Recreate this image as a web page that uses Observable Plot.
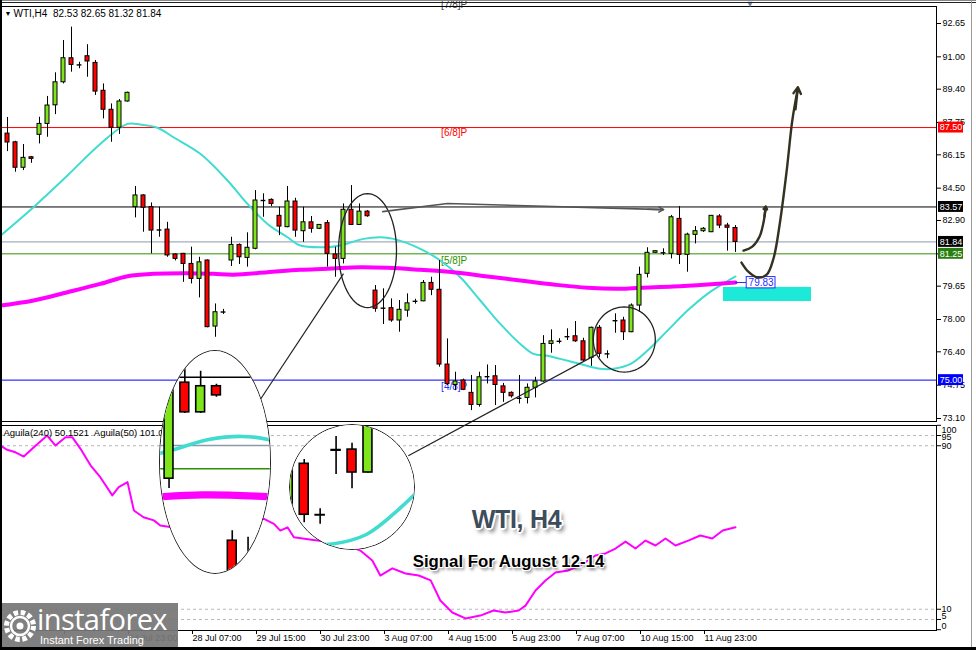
<!DOCTYPE html>
<html><head><meta charset="utf-8">
<script src="https://cdn.jsdelivr.net/npm/d3@7"></script>
<script src="https://cdn.jsdelivr.net/npm/@observablehq/plot@0.6"></script>
<style>
body{margin:0;background:#fff;}
#wrap{position:relative;width:976px;height:650px;overflow:hidden;background:#fff;font-family:"Liberation Sans",Arial,sans-serif;}
#wrap > *{position:absolute;}
.mag{background:#fff;border:1.5px solid #222;border-radius:50%;overflow:hidden;}
.mag svg{display:block;}
</style></head><body><div id="wrap"></div>
<script>
// ---------- DATA ----------
const open  = [87.20,86.77,85.51,86.03,87.14,87.68,88.60,89.74,90.93,90.62,91.03,90.70,89.32,88.38,87.49,88.79,
  83.56,84.14,83.56,82.44,82.45,81.22,81.25,80.75,80.01,80.92,77.65,78.38,80.92,81.69,81.05,81.50,83.90,83.92,83.13,82.57,83.84,82.37,82.81,82.49,82.77,81.22,81.00,83.43,82.68,83.34,
  79.43,78.57,78.56,77.95,78.44,78.91,78.90,79.81,79.47,75.77,74.76,74.98,74.37,73.77,75.18,75.19,74.69,74.37,74.11,74.12,74.62,74.93,76.79,76.93,77.16,77.17,76.92,76.10,77.59,76.31,
  77.95,77.95,77.37,78.69,80.26,81.30,81.31,81.25,82.98,81.20,82.19,82.37,82.32,83.10,82.65,82.53];
const high  = [88.00,86.82,86.66,86.07,88.01,89.04,90.21,91.81,92.47,90.73,91.60,90.82,89.66,88.67,88.89,89.25,
  84.58,84.17,83.77,83.56,82.81,81.25,81.27,81.58,81.08,80.95,78.77,78.50,82.07,81.74,82.29,84.38,84.22,83.97,83.56,84.58,84.00,83.56,83.10,82.70,82.90,81.58,83.72,84.63,83.72,83.39,
  79.68,79.52,79.02,78.94,79.27,79.00,79.93,80.09,80.92,77.04,75.39,75.05,75.23,75.39,75.75,75.72,74.84,74.42,75.23,74.81,75.14,77.20,77.49,77.05,77.54,77.90,77.07,77.62,77.70,76.45,
  78.28,78.11,78.77,80.59,81.55,81.40,81.50,83.15,83.59,82.27,82.60,82.55,83.15,83.19,82.76,82.65];
const low   = [86.31,85.29,85.37,85.73,86.69,87.02,88.14,89.66,90.24,90.41,89.99,89.09,87.93,86.77,87.16,88.76,
  83.03,82.32,81.25,82.07,81.08,80.90,79.84,79.76,79.07,77.59,77.12,78.25,80.62,80.72,80.59,81.45,83.06,83.59,82.15,82.54,82.07,81.82,82.27,82.45,80.59,80.09,80.75,82.65,82.65,83.06,
  78.36,77.75,77.86,77.37,78.11,78.76,78.88,79.18,75.64,74.73,74.48,74.48,73.49,73.66,74.81,73.74,73.90,74.11,73.82,73.82,74.12,74.89,76.33,76.79,76.96,76.87,75.88,75.68,76.10,76.06,
  77.32,76.96,77.35,78.36,80.06,81.28,81.17,81.00,80.72,80.34,81.74,82.31,82.30,82.50,81.38,81.32];
const close = [86.76,85.51,86.00,85.95,87.68,88.59,89.74,90.93,90.60,90.58,90.77,89.28,88.38,87.49,88.79,89.22,
  84.14,83.53,82.40,82.42,81.17,81.00,80.75,80.01,80.83,77.62,78.36,78.36,81.69,81.08,81.55,83.89,83.88,83.72,82.60,83.84,82.40,82.81,82.49,82.68,81.25,81.00,83.43,82.68,83.34,83.11,
  78.53,78.55,77.95,78.48,78.80,78.89,79.81,79.47,75.77,74.81,74.93,74.52,73.77,75.14,75.16,74.76,74.37,74.20,74.09,74.62,74.93,76.79,76.92,76.91,77.14,76.92,75.97,77.59,76.30,76.29,
  77.93,77.37,78.69,80.21,81.30,81.38,81.29,83.06,81.20,82.20,82.37,82.49,83.13,82.65,82.54,81.84];

// moving averages read at sampled bar positions
const cyanIdx = [-0.875,3.25,7.5,11.6,15,16.6,18.75,20.75,24.1,27.5,30,32.5,35,36.6,40,41.6,44.5,46.6,48.25,51.6,54.1,56.6,59.1,61.6,64.1,65.75,67.5,69.1,71.6,74.1,75.75,77.9,80,82.5,85,87.5,91];
const cyanVal = [82.15,83.56,85.13,86.69,87.68,87.65,87.49,87.02,86.20,84.88,83.72,82.73,82.07,81.66,81.58,81.66,81.99,82.07,81.99,81.50,80.92,80.09,78.94,77.78,76.79,76.30,76.21,76.05,75.80,75.56,75.56,75.80,76.46,77.45,78.44,79.27,80.13];
const magIdx = [-0.875,3.25,7.5,11.6,15,18.25,22.5,25.75,28.25,32.5,36.6,40,44.1,47.5,51.6,55.75,60,64.1,68.25,72.5,76.6,79.1,83.25,87.5,91];
const magVal = [78.69,78.94,79.35,79.76,80.14,80.26,80.29,80.26,80.22,80.34,80.46,80.51,80.59,80.56,80.46,80.34,80.13,79.93,79.73,79.57,79.52,79.57,79.63,79.73,79.83];

// Aguila(240) oscillator
const agIdx = [-0.875,-0.04,1,2.04,3.29,4.96,6,7.25,8.09,9.125,10.4,11.6,13.1,13.9,15,15.8,17,18.3,19.1,24,28,32,33.3,34.1,35,35.8,38,42,44.1,45.6,46.6,48.1,49.75,51.4,52.9,54.1,55.6,57.25,59.1,60.75,62.25,63.9,64.75,66,67.25,68.5,70.1,71.6,73.5,74.75,76,77.25,78.5,79.75,81,82.25,83.5,85.1,86.6,88.1,89.4,91];
const agVal = [90.1,88.0,86.8,84.7,89.3,95.0,90.1,94.2,94.2,88.5,80.3,74.6,65.7,69.7,72.2,58.3,55.0,53.5,51.0,48,52,54.3,51.8,48.5,50.1,45.2,44,42,38.7,33.9,26.5,30.0,27.5,26.5,24.1,14.3,8.4,5.5,6.9,9.4,8.4,9.4,11.8,19.2,24.1,28.0,29.0,31.4,36.3,37.3,39.7,43.1,39.7,43.6,41.2,44.6,41.2,43.6,46.1,44.6,48.5,50.15];

// levels
const levelVal   = [87.50, 83.57, 81.84, 81.25, 75.00];
const levelColor = ["#ff0000", "#000000", "#8a9aab", "#2f8f00", "#0000ff"];
const levelBox   = ["#ff0000", "#000000", "#000000", "#2a7d0f", "#0000ff"];
const murreyText = ["[7/8]P", "[6/8]P", "[5/8]P", "[4/8]P"];
const murreyPos  = [93.59, 87.25, 80.89, 74.65];
const murreyColor= ["#444", "#ff0000", "#2f8f00", "#2b2bff"];

const priceTicks = [92.65, 91.00, 89.40, 87.75, 86.15, 84.50, 82.90, 81.25, 79.65, 78.00, 76.40, 74.75, 73.10];
const oscLevels = [100, 95, 90, 10, 5, 0];
const oscDashed = [95, 90, 10, 5];
const timeTicks = [-1, 7, 15, 23, 31, 39, 47, 55, 63, 71, 79, 87];
const timeLabels = ["", "", "24 Jul 23:00","28 Jul 07:00","29 Jul 15:00","30 Jul 23:00","3 Aug 07:00","4 Aug 15:00","5 Aug 23:00","7 Aug 07:00","10 Aug 15:00","11 Aug 23:00"];

const header = "WTI,H4  82.53 82.65 81.32 81.84";
const oscHeader = "Aguila(240) 50.1521  Aguila(50) 101.03";
const ma240Last = 79.83;

// annotations (bar index, price)
const zoneBox = {x1: 89.5, x2: 100.5, y1: 78.89, y2: 79.59};
const ellipses = [{ci: 45, cp: 81.41, ri: 3.625, rp: 2.82}, {ci: 77.1, cp: 77.01, ri: 3.875, rp: 1.61}];
const connectors = [{x1: 31.6, y1: 74.04, x2: 42.0, y2: 80.27}, {x1: 50.1, y1: 71.26, x2: 73.6, y2: 76.26}];
const flatArrowI = [46.9, 55, 82];
const flatArrowP = [83.34, 83.74, 83.44];
const bigArrowI = [91.75, 92.6, 93.75, 94.9, 95.75, 96.5, 97.4, 98.1, 98.75];
const bigArrowP = [80.82, 80.37, 80.08, 80.22, 81.02, 82.65, 85.37, 87.85, 89.33];
const smallArrowI = [92.0, 93.1, 94.0, 94.5, 94.75];
const smallArrowP = [81.41, 81.61, 82.10, 82.80, 83.49];

// ---------- BUILD ----------
const GREEN = "#7ee51a", RED = "#ff0000";
const candles = open.map((o, i) => ({i, o, h: high[i], l: low[i], c: close[i]}));
const cyan = cyanIdx.map((x, j) => ({x, y: cyanVal[j]}));
const mag = magIdx.map((x, j) => ({x, y: magVal[j]}));
const ag = agIdx.map((x, j) => ({x, y: agVal[j]}));
const levels = levelVal.map((v, j) => ({v, color: levelColor[j], box: levelBox[j]}));
const murrey = murreyText.map((t, j) => ({t, p: murreyPos[j], color: murreyColor[j]}));
const FONT = "Liberation Sans, Arial, sans-serif";

function candleMarks(k, hw) {
  const body = candles.filter(d => Math.abs(d.o - d.c) >= 0.05);
  const doji = candles.filter(d => Math.abs(d.o - d.c) < 0.05);
  return [
    Plot.ruleX(candles, {x: "i", y1: "l", y2: "h", stroke: "#000", strokeWidth: k}),
    Plot.rect(body, {x1: d => d.i - hw, x2: d => d.i + hw, y1: d => Math.min(d.o, d.c), y2: d => Math.max(d.o, d.c),
      fill: d => d.c > d.o ? GREEN : RED, stroke: "#000", strokeWidth: k}),
    Plot.ruleY(doji, {y: d => (d.o + d.c) / 2, x1: d => d.i - hw - 0.05, x2: d => d.i + hw + 0.05, stroke: "#000", strokeWidth: k * 1.4})
  ];
}
function maMarks(k) {
  return [
    Plot.line(cyan, {x: "x", y: "y", stroke: "#3fdccf", strokeWidth: 2 * k, curve: "catmull-rom"}),
    Plot.line(mag, {x: "x", y: "y", stroke: "#ff00ff", strokeWidth: 4 * k, curve: "catmull-rom"})
  ];
}
function levelMarks(k) {
  return [Plot.ruleY(levels, {y: "v", stroke: "color", strokeWidth: k})];
}
function ellipsePts(e) {
  return d3.range(0, 73).map(j => {
    const t = j / 72 * 2 * Math.PI;
    return {x: e.ci + e.ri * Math.cos(t), y: e.cp + e.rp * Math.sin(t)};
  });
}

const wrap = document.getElementById("wrap");

// indicator panel
const ind = Plot.plot({
  width: 976, height: 226,
  marginTop: 1, marginBottom: 20, marginLeft: 1, marginRight: 40,
  x: {type: "linear", domain: [-0.875, 116.125], range: [0, 936]},
  y: {type: "linear", domain: [0, 100], range: [205.2, 0.8]},
  style: {fontFamily: FONT, fontSize: "9px", background: "#fff", color: "#000"},
  marks: [
    Plot.ruleY(oscDashed, {y: d => d, stroke: "#b8b8b8", strokeDasharray: "3,3"}),
    Plot.line(ag, {x: "x", y: "y", stroke: "#ff00ff", strokeWidth: 2}),
    Plot.frame({stroke: "#000"}),
    Plot.axisY({anchor: "right", ticks: oscLevels, tickSize: 4, tickFormat: () => "", label: null}),
    Plot.text([90, 10], {y: d => d, text: d => String(d), frameAnchor: "right", dx: 5, textAnchor: "start", fontSize: 9}),
    Plot.text([95], {y: d => d, text: d => String(d), frameAnchor: "right", dx: 5, dy: 2, textAnchor: "start", fontSize: 9}),
    Plot.text([5], {y: d => d, text: d => String(d), frameAnchor: "right", dx: 5, dy: -3, textAnchor: "start", fontSize: 9}),
    Plot.text([100], {y: d => d, text: d => String(d), frameAnchor: "right", dx: 5, dy: 5, textAnchor: "start", fontSize: 9}),
    Plot.text([0], {y: d => d, text: d => String(d), frameAnchor: "right", dx: 5, dy: -4, textAnchor: "start", fontSize: 9}),
    Plot.axisX({anchor: "bottom", ticks: timeTicks, tickFormat: d => timeLabels[timeTicks.indexOf(d)], tickSize: 4, tickPadding: 0, textAnchor: "start", dx: 1, label: null, fontSize: 9}),
    Plot.text([oscHeader], {text: d => d, frameAnchor: "top-left", dx: 2, dy: 7, lineAnchor: "middle", fontSize: 9.5})
  ]
});
ind.style.left = "0px"; ind.style.top = "424px";
wrap.appendChild(ind);

// main price panel
const main = Plot.plot({
  width: 976, height: 424,
  marginTop: 6, marginBottom: 3, marginLeft: 1, marginRight: 40,
  x: {type: "linear", domain: [-0.875, 116.125], range: [0, 936], axis: null},
  y: {type: "linear", domain: [73.10, 92.65], range: [418, 23]},
  style: {fontFamily: FONT, fontSize: "9px", background: "transparent", overflow: "visible", color: "#000"},
  marks: [
    ...levelMarks(1),
    Plot.text(murrey, {x: 54.2, y: "p", text: "t", fill: "color", textAnchor: "start", fontSize: 10}),
    ...maMarks(1),
    ...candleMarks(1, 0.25),
    Plot.rect([zoneBox], {x1: "x1", x2: "x2", y1: "y1", y2: "y2", fill: "#1de9d9"}),
    // 240 MA value tag
    Plot.ruleY([ma240Last], {x1: 91, x2: 92.4, stroke: "#2b2bff"}),
    Plot.rect([ma240Last], {x1: 92.4, x2: 96, y1: d => d - 0.29, y2: d => d + 0.27, fill: "#fff", stroke: "#2b2bff"}),
    Plot.text([ma240Last], {x: 94.2, y: d => d, text: d => d.toFixed(2), fill: "#2b2bff", fontSize: 10}),
    // ellipses & connectors
    ...ellipses.map(e => Plot.line(ellipsePts(e), {x: "x", y: "y", stroke: "#222", strokeWidth: 1.3, curve: "linear"})),
    Plot.link(connectors, {x1: "x1", y1: "y1", x2: "x2", y2: "y2", stroke: "#222", strokeWidth: 1.2}),
    // hand drawn arrows
    Plot.line(flatArrowI.map((x, j) => ({x, y: flatArrowP[j]})), {x: "x", y: "y", stroke: "#555", strokeWidth: 1.6}),
    Plot.arrow([{x1: 80, y1: 83.455, x2: 82, y2: 83.44}], {x1: "x1", y1: "y1", x2: "x2", y2: "y2", stroke: "#555", strokeWidth: 1.6, headLength: 10}),
    Plot.line(bigArrowI.map((x, j) => ({x, y: bigArrowP[j]})), {x: "x", y: "y", stroke: "#33311f", strokeWidth: 2.4, curve: "catmull-rom"}),
    Plot.arrow([{x1: 98.5, y1: 88.4, x2: 98.8, y2: 89.5}], {x1: "x1", y1: "y1", x2: "x2", y2: "y2", stroke: "#33311f", strokeWidth: 2.4, headLength: 12}),
    Plot.line(smallArrowI.map((x, j) => ({x, y: smallArrowP[j]})), {x: "x", y: "y", stroke: "#33311f", strokeWidth: 2.4, curve: "catmull-rom"}),
    Plot.arrow([{x1: 94.62, y1: 83.1, x2: 94.78, y2: 83.6}], {x1: "x1", y1: "y1", x2: "x2", y2: "y2", stroke: "#33311f", strokeWidth: 2.4, headLength: 10}),
    Plot.frame({stroke: "#000"}),
    Plot.axisY({anchor: "right", ticks: priceTicks, tickFormat: d => levelVal.includes(d) ? "" : d.toFixed(2), tickSize: 4, tickPadding: 2, label: null, fontSize: 9}),
    // price tags
    Plot.rect(levels, {x1: 116.375, x2: 119.5, y1: d => d.v - 0.27, y2: d => d.v + 0.27, fill: "box"}),
    Plot.text(levels, {x: 117.94, y: "v", text: d => d.v.toFixed(2), fill: "#fff", fontSize: 9}),
    Plot.text([header], {text: d => d, frameAnchor: "top-left", dx: 12, dy: 7, lineAnchor: "middle", textAnchor: "start", fontSize: 10}),
    Plot.text(["▼"], {text: d => d, frameAnchor: "top-left", dx: 3, dy: 7, lineAnchor: "middle", textAnchor: "start", fontSize: 7}),
    Plot.text(["▼"], {text: d => d, frameAnchor: "top-left", dx: 744, dy: -2, lineAnchor: "middle", fontSize: 9, fill: "#6f8095"})
  ]
});
main.style.left = "0px"; main.style.top = "0px";
wrap.appendChild(main);

// magnifier insets (same data, zoomed scales)
function inset(left, top, w, h, xd, yd) {
  const div = document.createElement("div");
  div.className = "mag";
  div.style.left = (left - 1.5) + "px"; div.style.top = (top - 1.5) + "px";
  div.style.width = w + "px"; div.style.height = h + "px";
  const p = Plot.plot({
    width: w, height: h, margin: 0,
    x: {type: "linear", domain: xd, range: [0, w], axis: null},
    y: {type: "linear", domain: yd, range: [h, 0], axis: null},
    style: {background: "#fff"},
    marks: [...levelMarks(1.5), ...maMarks(1.8), ...candleMarks(1.6, 0.28)]
  });
  div.appendChild(p);
  wrap.appendChild(div);
}
inset(160, 351, 110, 222, [41.46, 48.42], [78.60, 84.22]);
inset(290, 425, 124, 124, [73.14, 80.92], [75.42, 78.56]);

// titles
function label(txt, cx, cy, css) {
  const d = document.createElement("div");
  d.textContent = txt;
  d.style.cssText = `left:${cx - 150}px;top:${cy}px;width:300px;text-align:center;transform:translateY(-50%);white-space:nowrap;font-family:${FONT};font-weight:bold;` + css;
  wrap.appendChild(d);
}
label("WTI, H4", 516.5, 519, "font-size:25px;color:#3d4d5c;letter-spacing:-0.3px;text-shadow:-1.5px -1.5px 0 #fff,1.5px -1.5px 0 #fff,-1.5px 1.5px 0 #fff,1.5px 1.5px 0 #fff,0 -2px 0 #fff,0 2px 0 #fff,2px 0 0 #fff,-2px 0 0 #fff,3px 4px 4px rgba(0,0,0,0.55);");
label("Signal For August 12-14", 508.5, 562, "font-size:16.8px;color:#000;text-shadow:-1px -1px 0 #fff,1px -1px 0 #fff,-1px 1px 0 #fff,1px 1px 0 #fff,0 0 2px #fff,2px 3px 3px rgba(0,0,0,0.5);");

// logo
const logo = document.createElement("div");
logo.style.cssText = "left:0;top:603px;width:178px;height:45px;background:rgba(118,118,118,0.93);color:#fff;";
logo.innerHTML = `<svg width="38" height="42" style="position:absolute;left:1px;top:2px">
  <circle cx="19" cy="21" r="13.5" fill="none" stroke="#fff" stroke-width="5" stroke-dasharray="4.5 2.6"/>
  <circle cx="19" cy="21" r="9" fill="none" stroke="#fff" stroke-width="2.5"/>
  <circle cx="19" cy="21" r="3.5" fill="#fff"/></svg>
  <div style="position:absolute;left:37px;top:-1px;font-family:'Open Sans',sans-serif;font-size:29px;letter-spacing:-0.6px;line-height:34px;">instaforex</div>
  <div style="position:absolute;left:40px;top:31px;font-family:${FONT};font-size:11px;line-height:12px;">Instant Forex Trading</div>`;
wrap.appendChild(logo);

// window chrome
function bar(css) { const d = document.createElement("div"); d.style.cssText = css; wrap.appendChild(d); }
bar("left:0;top:0;width:976px;height:1px;background:#888;");
bar("left:0;top:2px;width:976px;height:1px;background:#222;");
bar("left:0;top:0;width:2px;height:650px;background:#000;");
bar("left:971px;top:0;width:1px;height:650px;background:#999;");
bar("left:0;top:647px;width:976px;height:3px;background:#000;");
</script></body></html>
